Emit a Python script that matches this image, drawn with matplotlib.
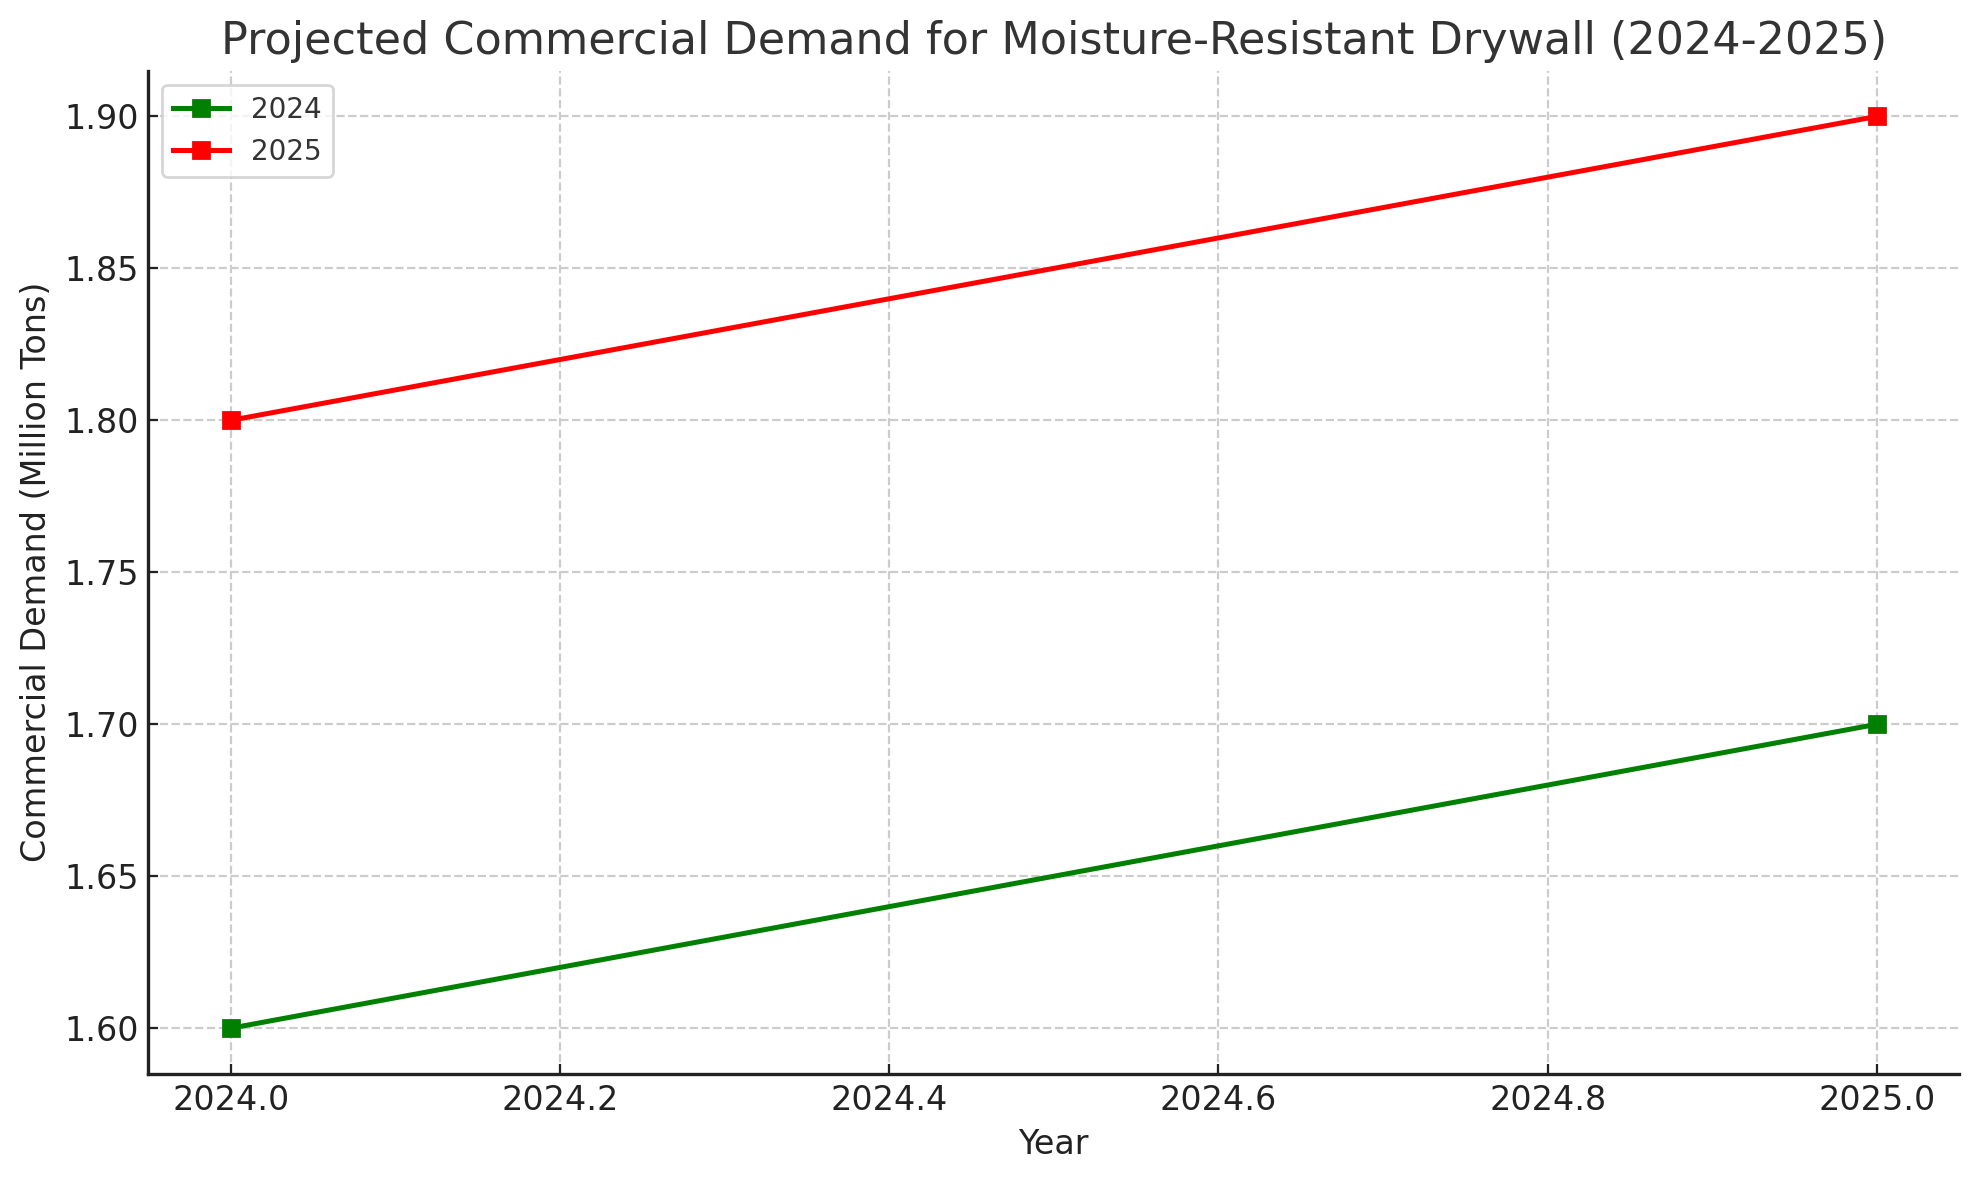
import matplotlib
matplotlib.use("Agg")
import matplotlib.pyplot as plt

years = [2024, 2025]
demand_2024 = [1.60, 1.70]
demand_2025 = [1.80, 1.90]

fig, ax = plt.subplots(figsize=(9.895, 5.9), dpi=200)

ax.plot(years, demand_2024, color="green", marker="s", markersize=6, linewidth=1.8, label="2024")
ax.plot(years, demand_2025, color="red", marker="s", markersize=6, linewidth=1.8, label="2025")

ax.set_title("Projected Commercial Demand for Moisture-Resistant Drywall (2024-2025)",
             fontsize=16, color="#333333")
ax.set_xlabel("Year", fontsize=12, color="#222222")
ax.set_ylabel("Commercial Demand (Million Tons)", fontsize=12, color="#222222")
ax.tick_params(labelsize=12, colors="#222222", direction="in")

ax.grid(True, linestyle="--", color="#cccccc", linewidth=0.8)
ax.spines["top"].set_visible(False)
ax.spines["right"].set_visible(False)
for s in ("left", "bottom"):
    ax.spines[s].set_color("#222222")
    ax.spines[s].set_linewidth(1.2)

leg = ax.legend(loc="upper left", fontsize=10)
for t in leg.get_texts():
    t.set_color("#333333")

fig.subplots_adjust(left=0.075, right=0.99, top=0.94, bottom=0.09)
fig.savefig("out.png", dpi=200)
